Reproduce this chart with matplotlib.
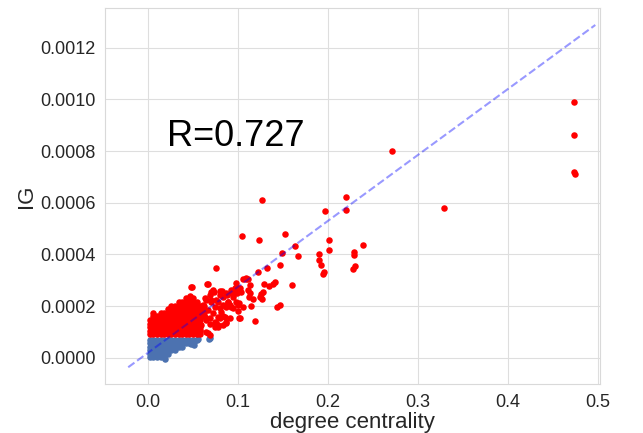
import matplotlib
matplotlib.use('Agg')
import matplotlib.pyplot as plt
import seaborn as sns
from matplotlib.ticker import FormatStrFormatter

# ── data ──────────────────────────────────────────────────────────────────
# dense blue cloud (IG below ~8e-5), one list of x per row of y
blue_row_y = [0.000002, 0.000014, 0.000028, 0.000042, 0.000056, 0.00007]
blue_row_x = [
    [0.002, 0.006, 0.010, 0.014, 0.018],
    [0.002, 0.006, 0.010, 0.014, 0.018, 0.022],
    [0.002, 0.006, 0.010, 0.014, 0.018, 0.022, 0.026, 0.030],
    [0.002, 0.006, 0.010, 0.014, 0.018, 0.022, 0.026, 0.030, 0.034, 0.038],
    [0.002, 0.006, 0.010, 0.014, 0.018, 0.022, 0.026, 0.030, 0.034, 0.038, 0.042,
     0.046],
    [0.002, 0.006, 0.010, 0.014, 0.018, 0.022, 0.026, 0.030, 0.034, 0.038, 0.042,
     0.046, 0.050, 0.054],
]
blue_extra_x = [0.0556, 0.0678, 0.0482, 0.0511, 0.0511, 0.0185, 0.0686]
blue_extra_y = [0.000071, 0.000071, 0.000053, 0.000060, 0.000049, -0.000004, 0.000075]

# dense red cloud core
core_x = [0.002, 0.006, 0.010, 0.014, 0.018, 0.022, 0.026, 0.030, 0.034, 0.038,
          0.042, 0.046, 0.050, 0.054, 0.058]
red_row_y = [0.00009, 0.000104, 0.000118, 0.000132, 0.000146, 0.00016,
             0.000174, 0.000188, 0.000202, 0.000216, 0.00023]
red_row_x = [
    core_x, core_x, core_x, core_x, core_x,
    [0.006, 0.010, 0.014, 0.018, 0.022, 0.026, 0.030, 0.034, 0.038, 0.042, 0.046,
     0.050, 0.054, 0.058],
    [0.014, 0.018, 0.022, 0.026, 0.030, 0.034, 0.038, 0.042, 0.046, 0.050, 0.054,
     0.058, 0.062],
    [0.022, 0.026, 0.030, 0.034, 0.038, 0.042, 0.046, 0.050, 0.054, 0.058, 0.062],
    [0.026, 0.030, 0.034, 0.038, 0.042, 0.046, 0.050, 0.054, 0.058, 0.062],
    [0.034, 0.038, 0.042, 0.046, 0.050, 0.054],
    [0.042, 0.046, 0.050],
]

# scattered red points
red_x = [0.4733, 0.4733, 0.4733, 0.4740, 0.2711, 0.3286,
         0.1271, 0.2204, 0.2204, 0.1963, 0.1041, 0.1230, 0.1519, 0.1630,
         0.2008, 0.2008, 0.2389, 0.1486, 0.1671, 0.1900, 0.1900, 0.1927,
         0.1956, 0.1949, 0.2289, 0.2289, 0.2297, 0.2282, 0.1467, 0.1322,
         0.1219, 0.1597, 0.1463, 0.1438, 0.1186, 0.1011, 0.1141,
         0.1289, 0.1344, 0.1389, 0.1410, 0.1278, 0.1260, 0.1241, 0.1263, 0.1170,
         0.1056, 0.1086, 0.1111, 0.1130, 0.1111, 0.1122, 0.1130,
         0.0982, 0.0963, 0.1019, 0.1037, 0.0989, 0.0926, 0.0944, 0.0974, 0.1011,
         0.1000, 0.0752, 0.0822, 0.0797, 0.0760, 0.0833, 0.0889, 0.0908,
         0.0656, 0.0722, 0.0685, 0.0649, 0.0704, 0.0741, 0.0797, 0.0871, 0.0944,
         0.0833, 0.0797, 0.0752, 0.0686, 0.0649, 0.0778, 0.0741, 0.0493,
         0.0667, 0.0686, 0.0056, 0.0482, 0.0463, 0.0697, 0.0804, 0.0878,
         0.0670, 0.0733, 0.0871, 0.0926, 0.1093, 0.1000, 0.0963,
         0.0630, 0.0611, 0.0704, 0.0778, 0.0833, 0.0889, 0.0926, 0.1000, 0.1056,
         0.0667, 0.0722, 0.0815, 0.0778, 0.0686, 0.0630, 0.0741, 0.0852, 0.0908,
         0.0778, 0.0833, 0.1019, 0.0593, 0.0574, 0.0649, 0.0863, 0.0760, 0.0871]
red_y = [0.000990, 0.000861, 0.000718, 0.000711, 0.000801, 0.000578,
         0.000610, 0.000623, 0.000572, 0.000568, 0.000472, 0.000454, 0.000478, 0.000434,
         0.000456, 0.000418, 0.000436, 0.000406, 0.000393, 0.000400, 0.000378, 0.000359,
         0.000330, 0.000324, 0.000409, 0.000396, 0.000355, 0.000342, 0.000360, 0.000347,
         0.000333, 0.000280, 0.000204, 0.000197, 0.000143, 0.000154, 0.000200,
         0.000287, 0.000277, 0.000284, 0.000292, 0.000255, 0.000247, 0.000236, 0.000228, 0.000228,
         0.000303, 0.000303, 0.000303, 0.000281, 0.000262, 0.000236, 0.000249,
         0.000290, 0.000269, 0.000269, 0.000255, 0.000249, 0.000249, 0.000236, 0.000217, 0.000210,
         0.000182, 0.000346, 0.000259, 0.000243, 0.000223, 0.000236, 0.000217, 0.000204,
         0.000285, 0.000262, 0.000243, 0.000223, 0.000217, 0.000197, 0.000191, 0.000197, 0.000191,
         0.000161, 0.000153, 0.000135, 0.000129, 0.000146, 0.000127, 0.000120, 0.000275,
         0.0000944, 0.000088, 0.000172, 0.000275, 0.000239, 0.000255, 0.000259, 0.000243,
         0.000285, 0.000255, 0.000249, 0.000262, 0.000307, 0.000269, 0.000249,
         0.000230, 0.000204, 0.000223, 0.000217, 0.000204, 0.000217, 0.000197, 0.000204, 0.000197,
         0.000185, 0.000172, 0.000178, 0.000159, 0.000153, 0.000159, 0.000139, 0.000159, 0.000153,
         0.000120, 0.000127, 0.000153, 0.000127, 0.000107, 0.000101, 0.000133, 0.000123, 0.000139]

# regression line end points
line_x = [-0.022, 0.497]
line_y = [-0.000037, 0.001288]
r_value = 0.727

xticks = [0.0, 0.1, 0.2, 0.3, 0.4, 0.5]
yticks = [0.0, 0.0002, 0.0004, 0.0006, 0.0008, 0.0010, 0.0012]

# ── build point lists ─────────────────────────────────────────────────────
bx, by = [], []
for y, row in zip(blue_row_y, blue_row_x):
    bx += row
    by += [y] * len(row)
bx += blue_extra_x
by += blue_extra_y

rx, ry = [], []
for y, row in zip(red_row_y, red_row_x):
    rx += row
    ry += [y] * len(row)
rx += red_x
ry += red_y

# ── plot ──────────────────────────────────────────────────────────────────
sns.set_style('whitegrid', {'grid.color': '.87', 'axes.edgecolor': '.85'})
plt.rcParams['font.family'] = ['Liberation Sans', 'DejaVu Sans']

fig = plt.figure(figsize=(6.43, 4.33), dpi=100)
ax = fig.add_axes([0.1633, 0.1125, 0.7698, 0.8683])

ax.scatter(bx, by, s=22, color='#4c72b0', linewidths=0, zorder=2)
ax.scatter(rx, ry, s=22, color='red', linewidths=0, zorder=3)
ax.plot(line_x, line_y, color='blue', alpha=0.4, lw=1.5, ls='--', zorder=4)

ax.text(0.021, 0.00082, f"R={r_value}", fontsize=26, color='black')

ax.set_xlim(-0.0478, 0.5022)
ax.set_ylim(-0.000103, 0.0013525)
ax.set_xticks(xticks)
ax.set_yticks(yticks)
ax.xaxis.set_major_formatter(FormatStrFormatter('%.1f'))
ax.yaxis.set_major_formatter(FormatStrFormatter('%.4f'))
ax.tick_params(labelsize=13, colors='.15')
ax.set_xlabel("degree centrality", fontsize=16, color='.15', labelpad=1)
ax.set_ylabel("IG", fontsize=16, color='.15', labelpad=2)

fig.savefig("out.png", dpi=100)
